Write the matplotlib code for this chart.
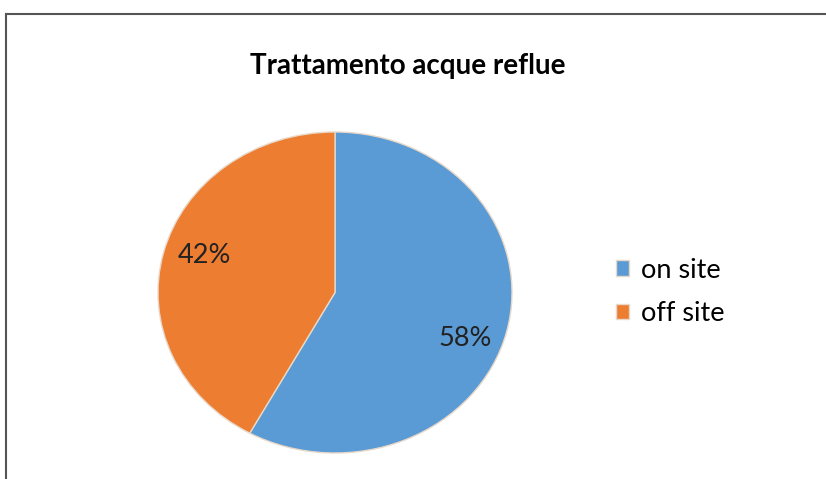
import matplotlib.pyplot as plt
from matplotlib.lines import Line2D

# dati
categorie = ["on site", "off site"]
valori = [58, 42]
colori = ["#5B9BD5", "#ED7D31"]
titolo = "Trattamento acque reflue"

plt.rcParams['font.family'] = ['Lato', 'DejaVu Sans']

W, H = 826, 479
fig = plt.figure(figsize=(W / 100, H / 100), dpi=100)
fig.patch.set_facecolor("white")

# cornice (solo bordo sinistro e superiore visibili)
fig.add_artist(Line2D([6 / W, 6 / W], [0, 1 - 14 / H], color="#555555", lw=1.5))
fig.add_artist(Line2D([6 / W, 1], [1 - 14 / H, 1 - 14 / H], color="#555555", lw=1.5))

# assi della torta (leggermente ellittica come nel riferimento)
ax = fig.add_axes([158 / W, (H - 453) / H, 354 / W, 321 / H])
wedges, testi, autotesti = ax.pie(
    valori, colors=colori, startangle=90, counterclock=False,
    autopct="%1.0f%%", pctdistance=0.76,
    wedgeprops=dict(edgecolor="#e8d8c8", linewidth=1),
    textprops=dict(fontsize=19.5, color="#222222"))
ax.set_aspect("auto")
ax.set_xlim(-1, 1)
ax.set_ylim(-1, 1)

# piccolo spostamento verticale delle etichette percentuali
spostamenti_y = [-0.1, 0.04]
for t, dy in zip(autotesti, spostamenti_y):
    x, y = t.get_position()
    t.set_position((x, y + dy))

fig.text(408 / W, 1 - 66 / H, titolo, ha="center", va="center",
         fontsize=20, fontweight="bold", color="black")

fig.legend(wedges, categorie, loc="center left",
           bbox_to_anchor=(602 / W, 1 - 292 / H), frameon=False,
           fontsize=19.5, handlelength=0.5, handleheight=0.5,
           handletextpad=0.45, labelspacing=0.68, borderpad=0)

fig.savefig("out.png", dpi=100, facecolor="white")
